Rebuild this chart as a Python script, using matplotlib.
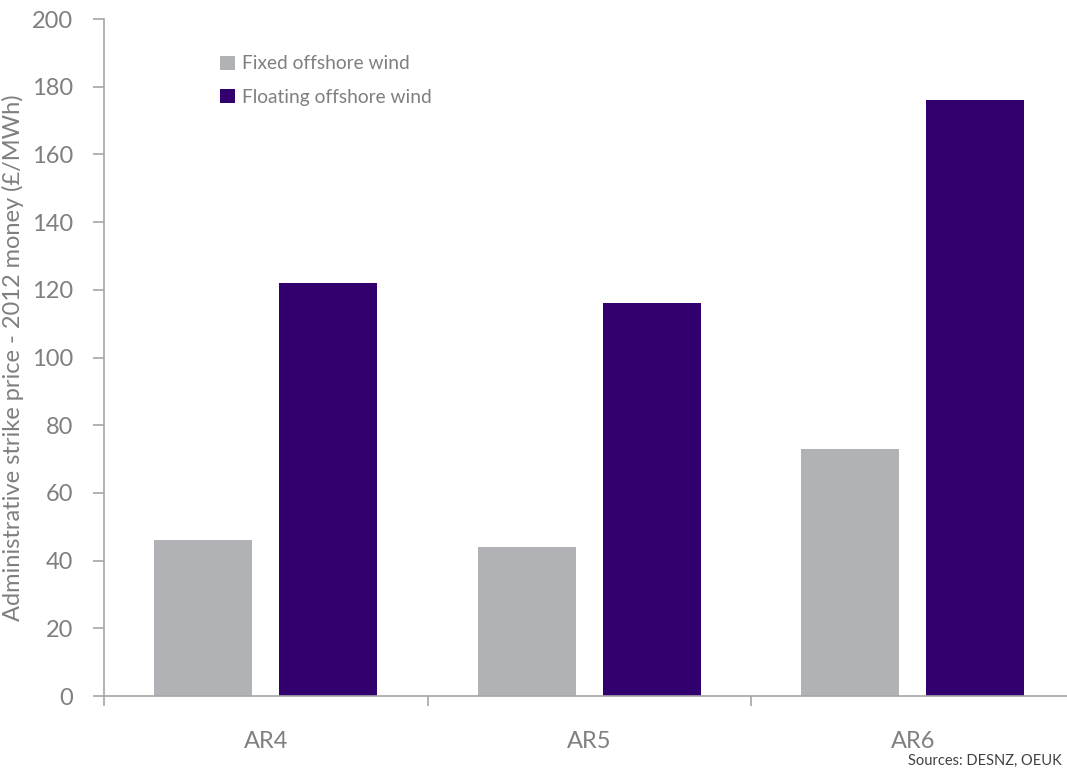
import numpy as np
import matplotlib.pyplot as plt

# Administrative strike prices by allocation round (2012 money, £/MWh)
rounds = ['AR4', 'AR5', 'AR6']
fixed_wind = [46, 44, 73]
floating_wind = [122, 116, 176]

grey = '#b1b2b6'
purple = '#32006e'
text_grey = '#7f7f7f'
axis_grey = '#a6a6a6'

plt.rcParams['font.family'] = ['Lato', 'DejaVu Sans']

fig = plt.figure(figsize=(10.67, 7.73), dpi=100)
ax = fig.add_axes([0.0975, 0.0996, 0.9096, 0.8758])

x = np.arange(len(rounds))
width = 0.303
offset = 0.193
ax.bar(x - offset, fixed_wind, width, color=grey, label='Fixed offshore wind')
ax.bar(x + offset, floating_wind, width, color=purple, label='Floating offshore wind')

ax.set_xlim(-0.5, len(rounds) - 0.5)
ax.set_ylim(0, 200)
ax.set_yticks(range(0, 201, 20))

# category boundaries get the tick marks, names sit between them
ax.set_xticks(np.arange(len(rounds) + 1) - 0.5)
ax.set_xticklabels([])
ax.set_xticks(x, minor=True)
ax.set_xticklabels(rounds, minor=True)
ax.tick_params(axis='x', which='minor', length=0, pad=25, labelsize=17, labelcolor=text_grey)
ax.tick_params(axis='x', which='major', length=7, color=axis_grey, width=1.2)
ax.tick_params(axis='y', length=8, color=axis_grey, width=1.2, pad=14,
               labelsize=17, labelcolor=text_grey)

for side in ['top', 'right']:
    ax.spines[side].set_visible(False)
for side in ['left', 'bottom']:
    ax.spines[side].set_color(axis_grey)
    ax.spines[side].set_linewidth(1.2)

ax.set_ylabel('Administrative strike price - 2012 money (£/MWh)',
              fontsize=17, color=text_grey, labelpad=6)

leg = ax.legend(loc='upper left', bbox_to_anchor=(203 / 1067, 1 - 38 / 773),
                bbox_transform=fig.transFigure, frameon=False, fontsize=13.8,
                handlelength=0.75, handleheight=0.75, handletextpad=0.4,
                labelspacing=0.85)
for t in leg.get_texts():
    t.set_color(text_grey)

fig.text(0.995, 0.006, 'Sources: DESNZ, OEUK', ha='right', va='bottom',
         fontsize=10.5, color='#404040')

fig.savefig('out.png', dpi=100)
